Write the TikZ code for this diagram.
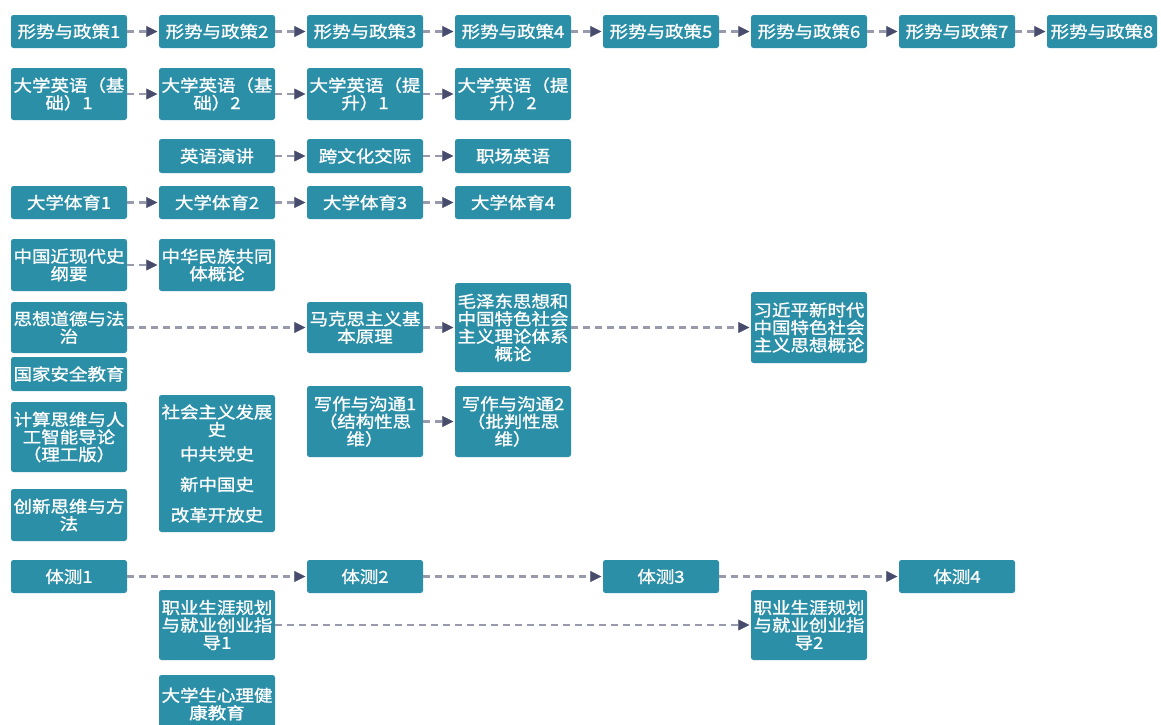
\documentclass[tikz,border=0pt]{standalone}
\usepackage{fontspec}
\newfontfamily\cjk[FakeStretch=1.12,FakeBold=1.2]{Noto Sans CJK SC}
\usetikzlibrary{arrows.meta}
\definecolor{boxteal}{RGB}{44,143,168}
\definecolor{dashgray}{RGB}{150,154,172}
\definecolor{headnavy}{RGB}{72,76,108}
\tikzset{
  box/.style={fill=boxteal, rounded corners=2.5pt, text=white, inner xsep=0pt, inner ysep=0pt,
    align=center, font=\cjk\fontsize{16.5}{17.5}\selectfont},
  arr/.style={draw=dashgray, dash pattern=on 7pt off 5pt, line width=2.4pt,
    -{Triangle[length=11pt,width=11pt,fill=headnavy,color=headnavy,line width=0.5pt]}, shorten >=1.5pt}
}
\newcommand\bx[6]{%
  \pgfmathsetmacro\bw{#4-#2}\pgfmathsetmacro\bh{#5-#3}%
  \node[box, minimum width=\bw pt, minimum height=\bh pt, text width=\bw pt] (#1) at ({(#2+#4)/2},{(#3+#5)/2}) {#6};}
\begin{document}
\begin{tikzpicture}[x=1pt,y=-1pt]
\useasboundingbox[fill=white] (0,0) rectangle (1161,724);
% row 1
\bx{p1}{11}{15}{127}{48}{形势与政策1}
\bx{p2}{159}{15}{275}{48}{形势与政策2}
\bx{p3}{307}{15}{423}{48}{形势与政策3}
\bx{p4}{455}{15}{571}{48}{形势与政策4}
\bx{p5}{603}{15}{719}{48}{形势与政策5}
\bx{p6}{751}{15}{867}{48}{形势与政策6}
\bx{p7}{899}{15}{1015}{48}{形势与政策7}
\bx{p8}{1047}{15}{1157}{48}{形势与政策8}
% row 2
\bx{e1}{11}{68}{127}{120}{大学英语（基\\础）1}
\bx{e2}{159}{68}{275}{120}{大学英语（基\\础）2}
\bx{e3}{307}{68}{423}{120}{大学英语（提\\升）1}
\bx{e4}{455}{68}{571}{120}{大学英语（提\\升）2}
% row 3
\bx{s1}{159}{139}{275}{173}{英语演讲}
\bx{s2}{307}{139}{423}{173}{跨文化交际}
\bx{s3}{455}{139}{571}{173}{职场英语}
% row 4
\bx{t1}{11}{186}{127}{219}{大学体育1}
\bx{t2}{159}{186}{275}{219}{大学体育2}
\bx{t3}{307}{186}{423}{219}{大学体育3}
\bx{t4}{455}{186}{571}{219}{大学体育4}
% politics
\bx{h1}{11}{239}{127}{291}{中国近现代史\\纲要}
\bx{h2}{159}{239}{275}{291}{中华民族共同\\体概论}
\bx{m1}{11}{302}{127}{353}{思想道德与法\\治}
\bx{m2}{307}{302}{423}{353}{马克思主义基\\本原理}
\bx{m3}{455}{283}{571}{372}{毛泽东思想和\\中国特色社会\\主义理论体系\\概论}
\bx{m4}{751}{292}{867}{363}{习近平新时代\\中国特色社会\\主义思想概论}
\bx{gj}{11}{357}{127}{391}{国家安全教育}
\bx{js}{11}{402}{127}{472}{计算思维与人\\工智能导论\\（理工版）}
\bx{cx}{11}{489}{127}{541}{创新思维与方\\法}
\bx{sh}{159}{395}{275}{532}{社会主义发展\\史\\[7pt]中共党史\\[13pt]新中国史\\[13pt]改革开放史}
\bx{w1}{307}{386}{423}{457}{写作与沟通1\\（结构性思\\维）}
\bx{w2}{455}{386}{571}{457}{写作与沟通2\\（批判性思\\维）}
% fitness tests
\bx{c1}{11}{560}{127}{593}{体测1}
\bx{c2}{307}{560}{423}{593}{体测2}
\bx{c3}{603}{560}{719}{593}{体测3}
\bx{c4}{899}{560}{1015}{593}{体测4}
\bx{z1}{159}{590}{275}{660}{职业生涯规划\\与就业创业指\\导1}
\bx{z2}{751}{590}{867}{660}{职业生涯规划\\与就业创业指\\导2}
\bx{xl}{159}{675}{275}{733}{大学生心理健\\康教育}
% arrows
\foreach \a/\b in {p1/p2,p2/p3,p3/p4,p4/p5,p5/p6,p6/p7,p7/p8,
  e1/e2,e2/e3,e3/e4,s1/s2,s2/s3,t1/t2,t2/t3,t3/t4,h1/h2,
  m1/m2,m2/m3,m3/m4,w1/w2,c1/c2,c2/c3,c3/c4,z1/z2}
  \draw[arr] (\a.east) -- (\b.west);
\end{tikzpicture}
\end{document}
